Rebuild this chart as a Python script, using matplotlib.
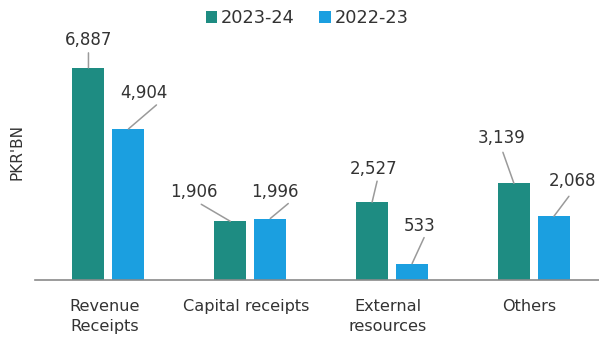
import matplotlib
matplotlib.use("Agg")
import matplotlib.pyplot as plt
import numpy as np

categories = ["Revenue\nReceipts", "Capital receipts", "External\nresources", "Others"]
fy_2023_24 = [6887, 1906, 2527, 3139]
fy_2022_23 = [4904, 1996, 533, 2068]
series_names = ["2023-24", "2022-23"]

TEAL = "#1e8c82"
BLUE = "#1b9fe0"
GREY = "#9a9a9a"

# leader-line end and label offsets (pixels from the bar top centre)
teal_offsets = [((0, -15), (0, -19)), ((-29, -17), (-36, -20)),
                ((5, -21), (1, -24)), ((-11, -31), (-12, -36))]
blue_offsets = [((28, -24), (15, -27)), ((18, -15), (5, -18)),
                ((12, -26), (8, -29)), ((15, -20), (19, -26))]

plt.rcParams["font.family"] = "DejaVu Sans"

W, H = 599, 341
fig = plt.figure(figsize=(W / 100, H / 100), dpi=100)
ax = fig.add_axes([35 / W, (H - 280) / H, (599 - 35) / W, 280 / H])

x = np.arange(len(categories))
width = 0.226
shift = 0.141
bars_a = ax.bar(x - shift, fy_2023_24, width, color=TEAL, label=series_names[0])
bars_b = ax.bar(x + shift, fy_2022_23, width, color=BLUE, label=series_names[1])

ax.set_xlim(-0.518, 3.459)
ax.set_ylim(0, 9090)

for s in ("top", "right", "left"):
    ax.spines[s].set_visible(False)
ax.spines["bottom"].set_color("#8a8a8a")
ax.spines["bottom"].set_linewidth(1.2)
ax.set_yticks([])
ax.set_xticks(x - 0.03)
ax.set_xticklabels(categories, fontsize=11.6, color="#333333", linespacing=1.35)
ax.tick_params(axis="x", length=0, pad=14)
for lbl in ax.get_xticklabels():
    lbl.set_verticalalignment("top")


def label_bars(bars, values, offsets):
    for bar, val, ((lx, ly), (tx, ty)) in zip(bars, values, offsets):
        cx = bar.get_x() + bar.get_width() / 2
        top = bar.get_height()
        ax.annotate("", xy=(cx, top), xytext=(lx, -ly),
                    textcoords="offset pixels",
                    arrowprops=dict(arrowstyle="-", color=GREY, lw=1.1,
                                    shrinkA=0, shrinkB=0))
        ax.annotate(f"{val:,}", xy=(cx, top), xytext=(tx, -ty),
                    textcoords="offset pixels", ha="center", va="bottom",
                    fontsize=12, color="#333333")


label_bars(bars_a, fy_2023_24, teal_offsets)
label_bars(bars_b, fy_2022_23, blue_offsets)

fig.text(17 / W, 1 - 152 / H, "PKR'BN", rotation=90, ha="center", va="center",
         fontsize=11, color="#333333")

leg = fig.legend(handles=[bars_a, bars_b], loc="center", ncol=2,
                 bbox_to_anchor=(307 / W, 1 - 18 / H), frameon=False,
                 fontsize=12.8, handlelength=0.65, handleheight=0.65,
                 handletextpad=0.2, columnspacing=1.4)
for t in leg.get_texts():
    t.set_color("#333333")

fig.savefig("out.png", dpi=100)
